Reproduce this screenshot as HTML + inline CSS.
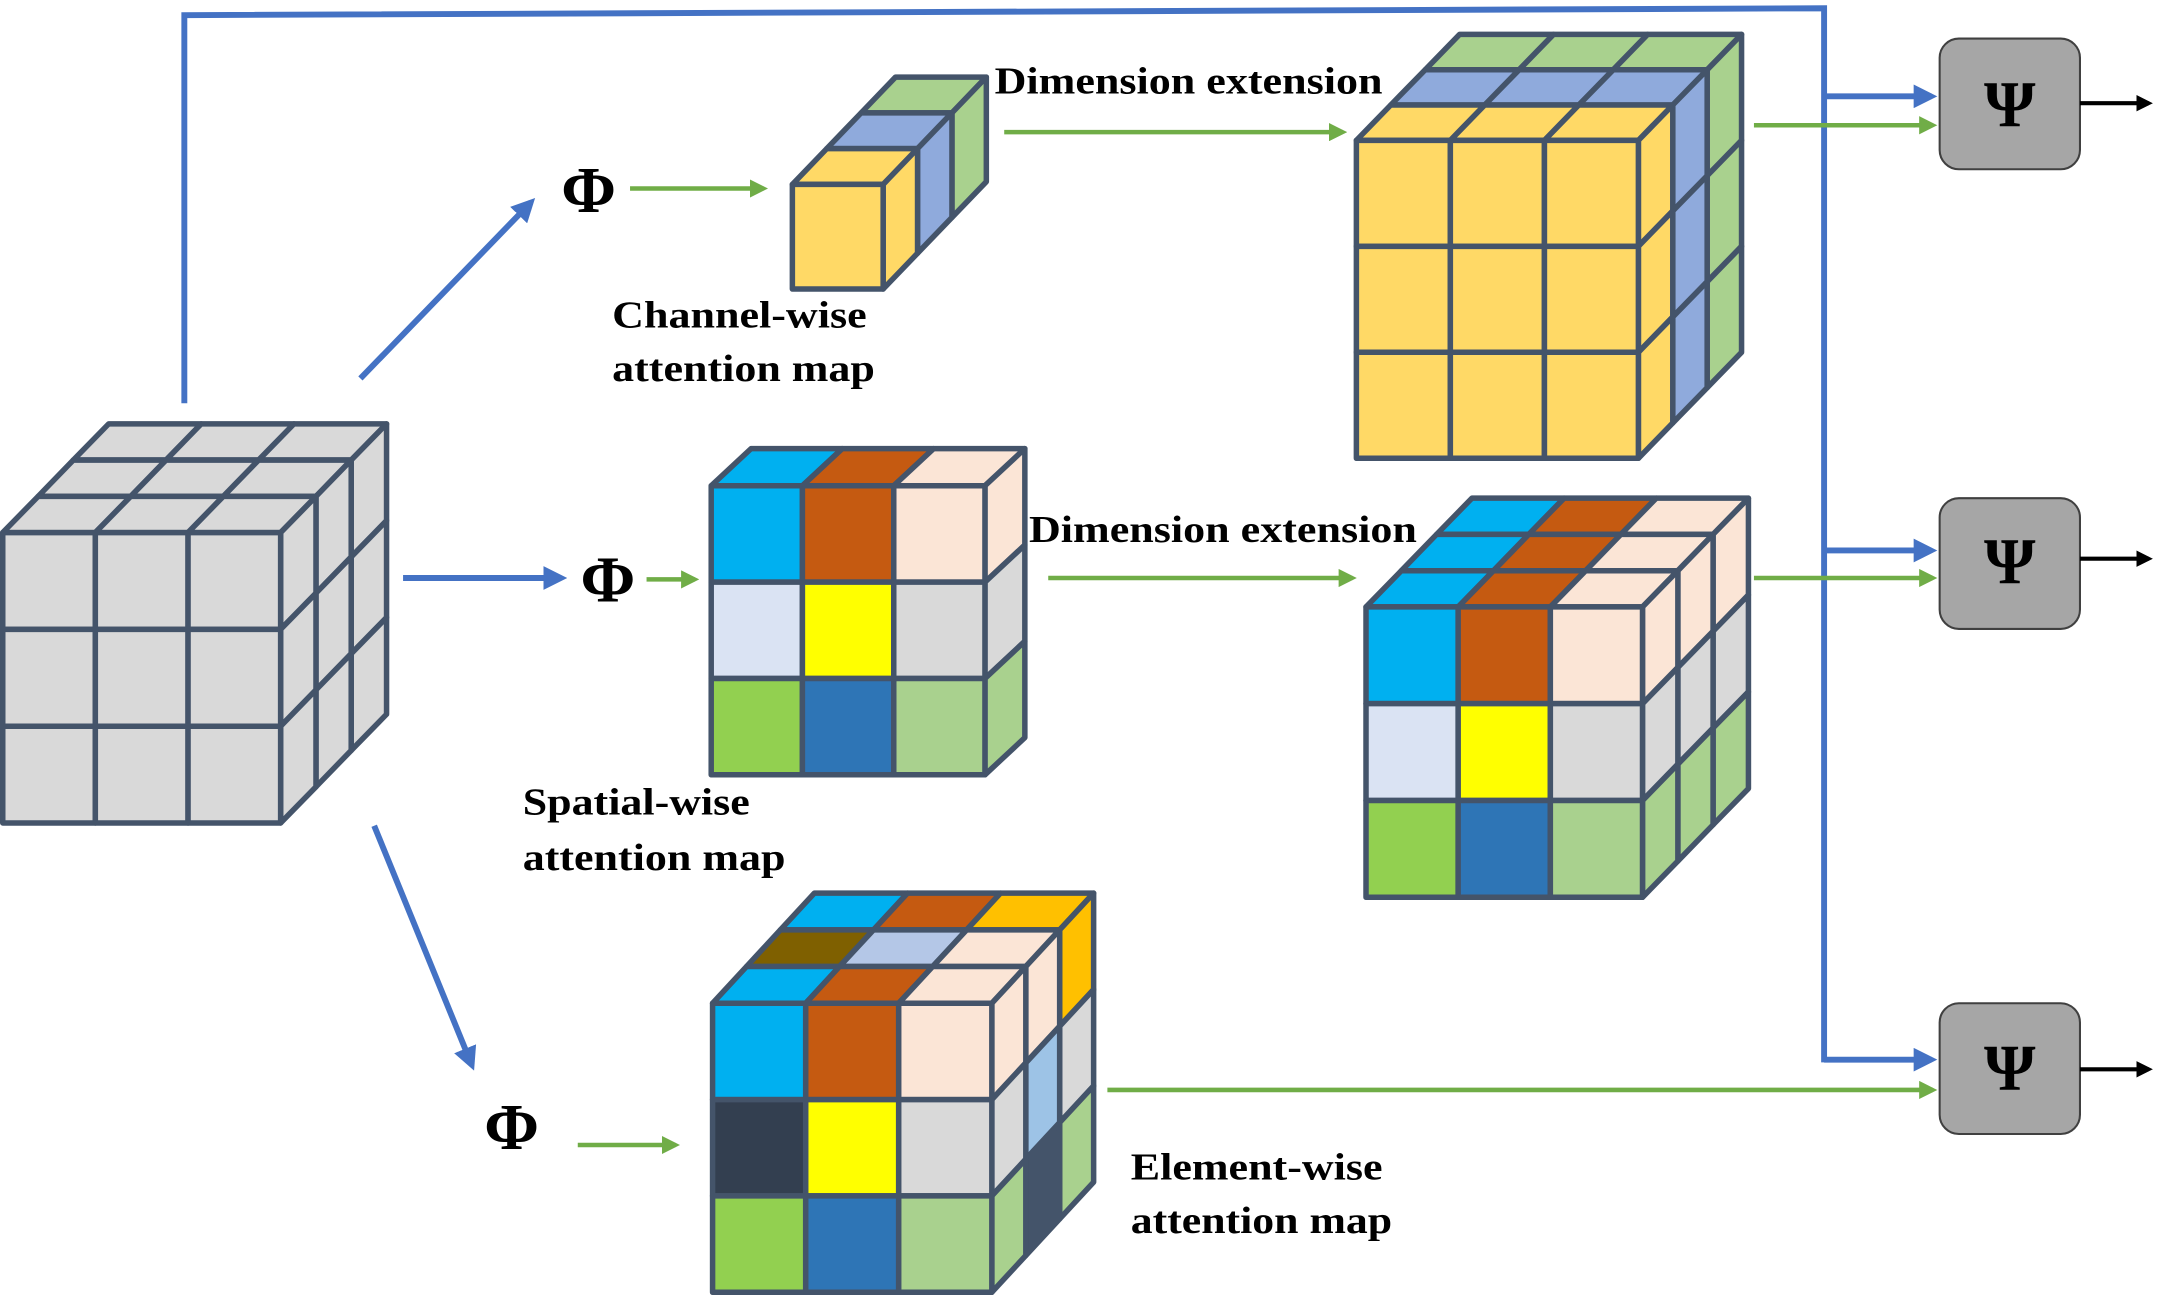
<!DOCTYPE html>
<html><head><meta charset="utf-8"><style>
html,body{margin:0;padding:0;background:#fff;}
svg{display:block;}
</style></head><body>
<svg id="s" width="2157" height="1295" viewBox="0 0 1568 941" preserveAspectRatio="none" xmlns="http://www.w3.org/2000/svg">
<defs>
<marker id="ab" markerWidth="4" markerHeight="4" refX="3" refY="2" orient="auto" markerUnits="strokeWidth"><path d="M0,0 L4,2 L0,4 z" fill="#4472c4"/></marker>
<marker id="ag" markerWidth="4" markerHeight="4" refX="3" refY="2" orient="auto" markerUnits="strokeWidth"><path d="M0,0 L4,2 L0,4 z" fill="#70ad47"/></marker>
<marker id="ak" markerWidth="4" markerHeight="4" refX="3" refY="2" orient="auto" markerUnits="strokeWidth"><path d="M0,0 L4,2 L0,4 z" fill="#000"/></marker>
</defs>
<g id="cubes"></g>
<g stroke="#4472c4" stroke-width="4.3" fill="none">
<polyline points="134,293 134,11 1326,6 1326,772"/>
<line x1="1326" y1="70" x2="1404" y2="70" marker-end="url(#ab)"/>
<line x1="1326" y1="400" x2="1404" y2="400" marker-end="url(#ab)"/>
<line x1="1326" y1="770" x2="1404" y2="770" marker-end="url(#ab)"/>
<line x1="262" y1="275" x2="386" y2="147" marker-end="url(#ab)"/>
<line x1="293" y1="420" x2="408" y2="420" marker-end="url(#ab)"/>
<line x1="272" y1="600" x2="343" y2="774" marker-end="url(#ab)"/>
</g>
<g stroke="#70ad47" stroke-width="3.3" fill="none">
<line x1="1275" y1="91" x2="1405" y2="91" marker-end="url(#ag)"/>
<line x1="1275" y1="420" x2="1405" y2="420" marker-end="url(#ag)"/>
<line x1="805" y1="792" x2="1405" y2="792" marker-end="url(#ag)"/>
<line x1="458" y1="137" x2="555" y2="137" marker-end="url(#ag)"/>
<line x1="470" y1="421" x2="505" y2="421" marker-end="url(#ag)"/>
<line x1="420" y1="832" x2="491" y2="832" marker-end="url(#ag)"/>
<line x1="730" y1="96" x2="976" y2="96" marker-end="url(#ag)"/>
<line x1="762" y1="420" x2="983" y2="420" marker-end="url(#ag)"/>
</g>
<g fill="#a6a6a6" stroke="#404040" stroke-width="1.5">
<rect x="1410" y="28" width="102" height="95" rx="14"/>
<rect x="1410" y="362" width="102" height="95" rx="14"/>
<rect x="1410" y="729" width="102" height="95" rx="14"/>
</g>
<g stroke="#000" stroke-width="3">
<line x1="1512" y1="75" x2="1562" y2="75" marker-end="url(#ak)"/>
<line x1="1512" y1="406" x2="1562" y2="406" marker-end="url(#ak)"/>
<line x1="1512" y1="777" x2="1562" y2="777" marker-end="url(#ak)"/>
</g>
<g font-family="'Liberation Serif','Times New Roman',serif" font-weight="bold" fill="#000">
<g font-size="48" text-anchor="middle">
<text x="1461" y="92">Ψ</text>
<text x="1461" y="424">Ψ</text>
<text x="1461" y="792">Ψ</text>
</g>
<g font-size="48">
<text x="408" y="154">Φ</text>
<text x="422" y="437">Φ</text>
<text x="352" y="835">Φ</text>
</g>
<g font-size="28" lengthAdjust="spacingAndGlyphs">
<text x="723" y="68" textLength="282" lengthAdjust="spacingAndGlyphs">Dimension extension</text>
<text x="748" y="394" textLength="282" lengthAdjust="spacingAndGlyphs">Dimension extension</text>
<text x="445" y="238" textLength="185" lengthAdjust="spacingAndGlyphs">Channel-wise</text>
<text x="445" y="277" textLength="191" lengthAdjust="spacingAndGlyphs">attention map</text>
<text x="380" y="592" textLength="165" lengthAdjust="spacingAndGlyphs">Spatial-wise</text>
<text x="380" y="632" textLength="191" lengthAdjust="spacingAndGlyphs">attention map</text>
<text x="822" y="857" textLength="183" lengthAdjust="spacingAndGlyphs">Element-wise</text>
<text x="822" y="896" textLength="190" lengthAdjust="spacingAndGlyphs">attention map</text>
</g>
</g>
</svg>
<script>
var g=document.getElementById('cubes');
function poly(pts,fill){var p=document.createElementNS('http://www.w3.org/2000/svg','polygon');
p.setAttribute('points',pts.map(function(a){return a[0].toFixed(1)+','+a[1].toFixed(1)}).join(' '));
p.setAttribute('fill',fill);p.setAttribute('stroke','#44546a');p.setAttribute('stroke-width','4');p.setAttribute('stroke-linejoin','round');g.appendChild(p);}
function cube(c){var cw=c.w/c.nc,ch=c.h/c.nr,ddx=c.dx/c.nd,ddy=c.dy/c.nd;
for(var k=c.nd-1;k>=0;k--){for(var j=0;j<c.nc;j++){var x=c.x+j*cw+k*ddx,y=c.y+k*ddy;
poly([[x,y],[x+cw,y],[x+cw+ddx,y+ddy],[x+ddx,y+ddy]],c.top(k,j));}}
for(var k=c.nd-1;k>=0;k--){for(var i=0;i<c.nr;i++){var x=c.x+c.w+k*ddx,y=c.y+i*ch+k*ddy;
poly([[x,y],[x+ddx,y+ddy],[x+ddx,y+ddy+ch],[x,y+ch]],c.right(k,i));}}
for(var i=0;i<c.nr;i++)for(var j=0;j<c.nc;j++){var x=c.x+j*cw,y=c.y+i*ch;
poly([[x,y],[x+cw,y],[x+cw,y+ch],[x,y+ch]],c.front(i,j));}}
var G='#d9d9d9',Y='#ffd966',B='#8faadc',GR='#a9d18e';
cube({x:2,y:387,w:202,h:211,dx:77,dy:-79,nc:3,nr:3,nd:3,front:function(){return G},top:function(){return G},right:function(){return G}});
var L=[Y,B,GR];
cube({x:576,y:134,w:66,h:76,dx:75,dy:-78,nc:1,nr:1,nd:3,front:function(){return Y},top:function(k){return L[k]},right:function(k){return L[k]}});
cube({x:986,y:102,w:205,h:231,dx:75,dy:-77,nc:3,nr:3,nd:3,front:function(){return Y},top:function(k){return L[k]},right:function(k){return L[k]}});
var S=[['#00b0f0','#c55a11','#fbe5d6'],['#dae3f3','#ffff00','#d9d9d9'],['#92d050','#2e75b6','#a9d18e']];
cube({x:517,y:353,w:199,h:210,dx:29,dy:-27,nc:3,nr:3,nd:1,front:function(i,j){return S[i][j]},top:function(k,j){return S[0][j]},right:function(k,i){return S[i][2]}});
cube({x:993,y:441,w:201,h:211,dx:77,dy:-79,nc:3,nr:3,nd:3,front:function(i,j){return S[i][j]},top:function(k,j){return S[0][j]},right:function(k,i){return S[i][2]}});
var EF=[['#00b0f0','#c55a11','#fbe5d6'],['#333f50','#ffff00','#d9d9d9'],['#92d050','#2e75b6','#a9d18e']];
var ET=[['#00b0f0','#c55a11','#fbe5d6'],['#7f6000','#b4c7e7','#fbe5d6'],['#00b0f0','#c55a11','#ffc000']];
var ER=[['#fbe5d6','#d9d9d9','#a9d18e'],['#fbe5d6','#9dc3e6','#44546a'],['#ffc000','#d9d9d9','#a9d18e']];
cube({x:518,y:729,w:203,h:210,dx:74,dy:-80,nc:3,nr:3,nd:3,front:function(i,j){return EF[i][j]},top:function(k,j){return ET[k][j]},right:function(k,i){return ER[k][i]}});
</script>
</body></html>
